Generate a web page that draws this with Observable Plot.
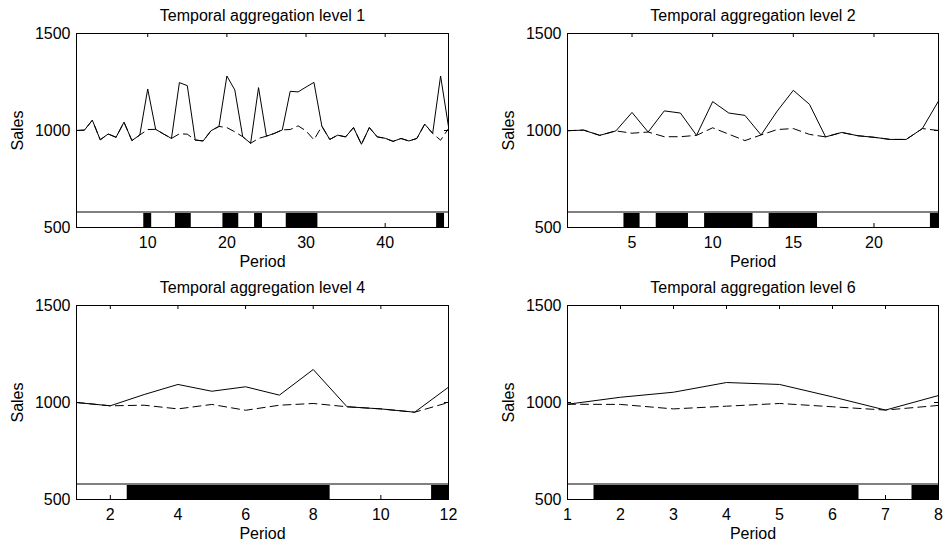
<!DOCTYPE html>
<html>
<head>
<meta charset="utf-8">
<script src="https://cdn.jsdelivr.net/npm/d3@7"></script>
<script src="https://cdn.jsdelivr.net/npm/@observablehq/plot@0.6"></script>
<style>
  html, body { margin: 0; padding: 0; background: white; }
  #chart { position: relative; width: 943px; height: 545px; overflow: hidden; }
  #chart svg { position: absolute; overflow: visible; }
</style>
</head>
<body>
<div id="chart"></div>
<script>
// ---- data ----
const titles = ["Temporal aggregation level 1", "Temporal aggregation level 2", "Temporal aggregation level 4", "Temporal aggregation level 6"];

const sales1 = [1000,1002,1053,952,982,965,1043,948,977,1214,1006,982,959,1247,1231,951,946,999,1021,1281,1209,968,934,1221,971,985,1003,1202,1199,1224,1248,1022,954,976,967,1015,929,1015,967,960,944,959,946,959,1033,985,1281,1020];
const base1  = [1000,1002,1053,952,982,965,1043,948,977,1005,1006,982,959,983,981,951,946,999,1021,1015,993,968,934,959,971,985,1003,1005,1024,998,952,1022,954,976,967,1015,929,1015,967,960,944,959,946,959,1033,985,950,1010];
const promo1 = [10,14,15,20,21,24,28,29,30,31,47];

const sales2 = [999,1002,975,998,1093,992,1101,1090,975,1149,1090,1078,977,1100,1207,1135,967,990,973,965,954,954,1010,1152];
const base2  = [999,1002,975,998,986,992,968,968,975,1014,981,948,977,1005,1010,980,967,990,973,965,954,954,1010,1000];
const promo2 = [5,7,8,10,11,12,14,15,16,24];

const sales4 = [1000,983,1041,1093,1058,1081,1038,1170,978,967,950,1079];
const base4  = [1000,983,986,967,990,960,986,995,978,967,950,1000];
const promo4 = [3,4,5,6,7,8,12];

const sales6 = [991,1027,1053,1103,1093,1029,961,1036];
const base6  = [991,990,967,981,995,978,961,985];
const promo6 = [2,3,4,5,6,8];

const xTicks1 = [10,20,30,40];
const xTicks2 = [5,10,15,20];
const xTicks4 = [2,4,6,8,10,12];
const xTicks6 = [1,2,3,4,5,6,7,8];
const yTicks = [500,1000,1500];
const yDomain = [500,1500];
const stripTop = 580;

// ---- drawing ----
const FONT = "'Liberation Sans', Arial, Helvetica, sans-serif";
const panels = [
  {title: titles[0], sales: sales1, base: base1, promo: promo1, ticks: xTicks1, left: 0,   top: 0,   width: 471, mLeft: 76, mRight: 23},
  {title: titles[1], sales: sales2, base: base2, promo: promo2, ticks: xTicks2, left: 471, top: 0,   width: 472, mLeft: 96, mRight: 5},
  {title: titles[2], sales: sales4, base: base4, promo: promo4, ticks: xTicks4, left: 0,   top: 272, width: 471, mLeft: 76, mRight: 23},
  {title: titles[3], sales: sales6, base: base6, promo: promo6, ticks: xTicks6, left: 471, top: 272, width: 472, mLeft: 96, mRight: 5}
];

// group consecutive promotion periods into runs so that adjacent bars merge
function runs(periods) {
  const out = [];
  for (const p of periods) {
    const last = out[out.length - 1];
    if (last && last.end === p - 1) last.end = p;
    else out.push({start: p, end: p});
  }
  return out;
}

const H = 272, mTop = 33, mBottom = 45;
const chart = document.getElementById("chart");

for (const p of panels) {
  const n = p.sales.length;
  const data = p.sales.map((v, i) => ({period: i + 1, sales: v, base: p.base[i]}));
  const fw = p.width - p.mLeft - p.mRight;
  const fh = H - mTop - mBottom;
  const tl = 4;
  const svg = Plot.plot({
    width: p.width,
    height: H,
    marginLeft: p.mLeft,
    marginRight: p.mRight,
    marginTop: mTop,
    marginBottom: mBottom,
    style: {fontFamily: FONT, fontSize: "16px", background: "white", color: "black"},
    x: {domain: [1, n], ticks: p.ticks, tickSize: 0, tickPadding: 9, label: null, tickFormat: d => String(d)},
    y: {domain: yDomain, ticks: yTicks, tickSize: 0, tickPadding: 6, label: null, tickFormat: d => String(d)},
    marks: [
      Plot.rect(runs(p.promo), {x1: d => d.start - 0.5, x2: d => d.end + 0.5, y1: yDomain[0], y2: stripTop, fill: "black", inset: 0, clip: true}),
      Plot.ruleY([stripTop], {stroke: "#808080", strokeWidth: 1.2, shapeRendering: "crispEdges"}),
      Plot.line(data, {x: "period", y: "base", stroke: "black", strokeWidth: 1, strokeDasharray: "8,5"}),
      Plot.line(data, {x: "period", y: "sales", stroke: "black", strokeWidth: 1}),
      Plot.ruleX(p.ticks, {insetTop: fh - tl, stroke: "black"}),
      Plot.ruleX(p.ticks, {insetBottom: fh - tl, stroke: "black"}),
      Plot.ruleY(yTicks, {insetRight: fw - tl, stroke: "black"}),
      Plot.ruleY(yTicks, {insetLeft: fw - tl, stroke: "black"}),
      Plot.frame({stroke: "black", strokeWidth: 1}),
      Plot.text([p.title], {frameAnchor: "top", lineAnchor: "middle", textAnchor: "middle", dy: -18, fontSize: 16, fill: "black"}),
      Plot.text(["Sales"], {frameAnchor: "left", lineAnchor: "middle", textAnchor: "middle", dx: -59, rotate: -90, fontSize: 16, fill: "black"}),
      Plot.text(["Period"], {frameAnchor: "bottom", lineAnchor: "middle", textAnchor: "middle", dy: 34.5, fontSize: 16, fill: "black"})
    ]
  });
  svg.style.left = p.left + "px";
  svg.style.top = p.top + "px";
  chart.appendChild(svg);
}
</script>
</body>
</html>
